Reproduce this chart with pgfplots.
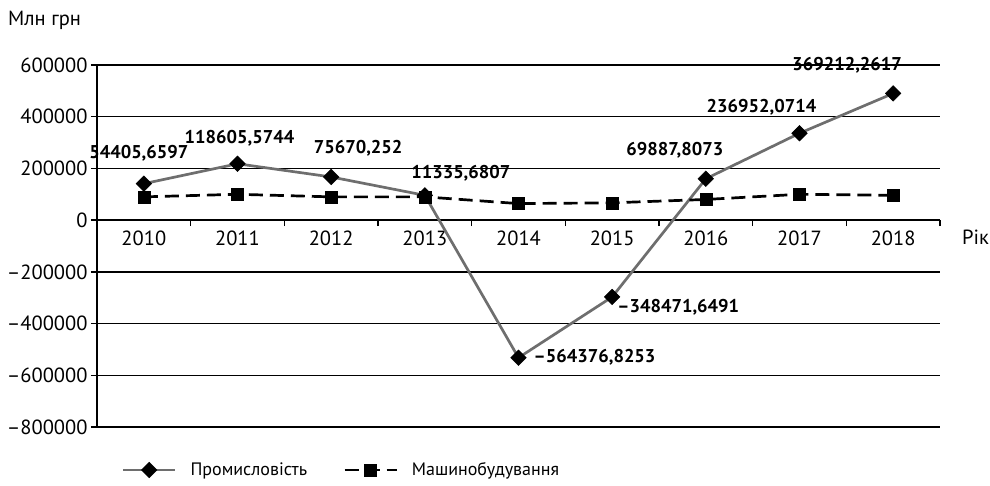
\documentclass[border=0pt]{standalone}
\usepackage{fontspec}
\setmainfont{PT Sans}
\usepackage{pgfplots}
\pgfplotsset{compat=1.18}
\definecolor{lgray}{RGB}{110,110,110}
\begin{document}
\begin{tikzpicture}
\begin{axis}[
  scale only axis, width=843pt, height=362pt,
  xmin=-0.5, xmax=8.5, ymin=-800000, ymax=600000,
  axis x line=middle, axis y line=left,
  axis line style={-, black, line width=1.6pt},
  x axis line style={-}, y axis line style={-},
  scaled y ticks=false,
  ytick={-800000,-600000,-400000,-200000,0,200000,400000,600000},
  yticklabels={–800000,–600000,–400000,–200000,0,200000,400000,600000},
  ymajorgrids, grid style={black, line width=1.3pt},
  xtick={0.5,1.5,...,8.5}, xticklabels={},
  extra x ticks={0,1,2,3,4,5,6,7,8},
  extra x tick labels={2010,2011,2012,2013,2014,2015,2016,2017,2018},
  extra x tick style={major tick length=0pt, grid=none},
  xticklabel style={yshift=-7pt},
  tick align=outside, major tick length=6pt,
  tick style={black, line width=1.3pt},
  ticklabel style={font=\fontsize{20.5}{24}\selectfont},
  clip=false,
  legend columns=2,
  legend style={draw=none, at={(axis description cs:0.29,0)}, anchor=center, yshift=-43pt,
    font=\fontsize{18}{22}\selectfont,
    /tikz/every odd column/.append style={column sep=12pt},
    /tikz/every even column/.append style={column sep=34pt}},
  legend image code/.code={\draw[mark repeat=2, mark phase=2, #1] plot coordinates {(0pt,0pt)(26pt,0pt)(52pt,0pt)};},
]
\addplot[lgray, line width=2.7pt, mark=square*, mark size=5.5pt,
  mark options={rotate=45, fill=black, draw=black, line width=0.5pt, solid}]
  coordinates {(0,141000)(1,218000)(2,167000)(3,96000)(4,-532000)(5,-297000)(6,160000)(7,336000)(8,490000)};
\addlegendentry{Промисловість}
\addplot[black, line width=2.7pt, dash pattern=on 14pt off 7pt, mark=square*, mark size=6pt,
  mark options={fill=black, draw=black, line width=0.5pt, solid}]
  coordinates {(0,90000)(1,100000)(2,90000)(3,90000)(4,64000)(5,67000)(6,80000)(7,100000)(8,96000)};
\addlegendentry{Машинобудування}
\begin{scope}[every node/.style={font=\bfseries\fontsize{18.5}{22}\selectfont, inner sep=0pt}]
\node[xshift=-5pt, yshift=30pt] at (axis cs:0,141000) {54405,6597};
\node[xshift=2pt, yshift=26pt] at (axis cs:1,218000) {118605,5744};
\node[xshift=27pt, yshift=29pt] at (axis cs:2,167000) {75670,252};
\node[xshift=36pt, yshift=22pt] at (axis cs:3,96000) {11335,6807};
\node[anchor=west, xshift=15pt, yshift=0pt] at (axis cs:4,-532000) {–564376,8253};
\node[anchor=west, xshift=5pt, yshift=-10pt] at (axis cs:5,-297000) {–348471,6491};
\node[xshift=-31pt, yshift=29pt] at (axis cs:6,160000) {69887,8073};
\node[xshift=-38pt, yshift=26pt] at (axis cs:7,336000) {236952,0714};
\node[xshift=-46pt, yshift=28pt] at (axis cs:8,490000) {369212,2617};
\end{scope}
\node[anchor=west, inner sep=0pt, font=\fontsize{20.5}{24}\selectfont] at ([xshift=-89pt, yshift=45pt]rel axis cs:0,1) {Млн грн};
\node[anchor=west, inner sep=0pt, font=\fontsize{20.5}{24}\selectfont] at ([xshift=22pt, yshift=-17pt]axis cs:8.5,0) {Рік};
\end{axis}
\pgfresetboundingbox
\path[use as bounding box] ([xshift=-97pt, yshift=-58pt]current axis.south west) rectangle ++(990pt,485pt);
\end{tikzpicture}
\end{document}
